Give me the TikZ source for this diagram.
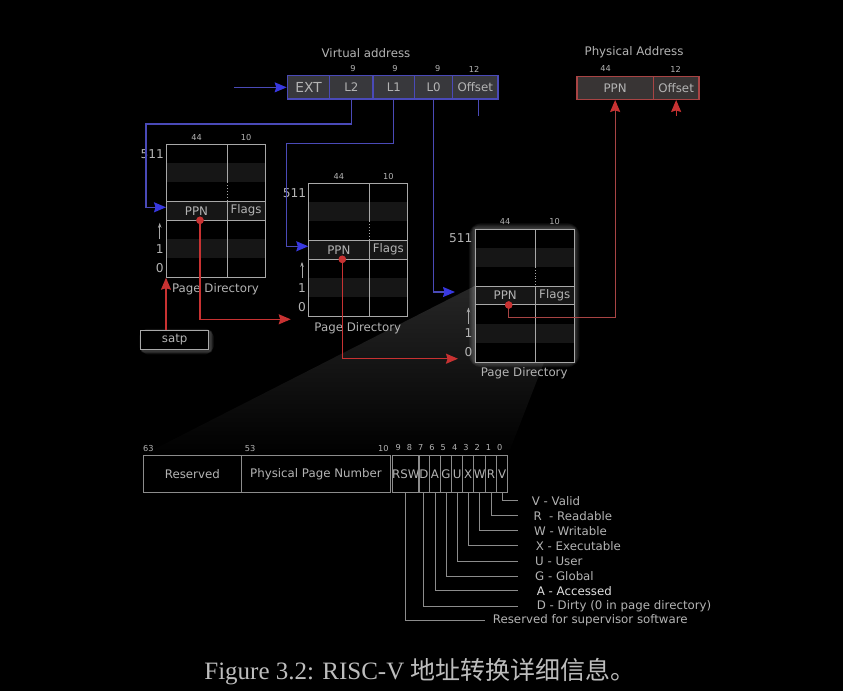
\documentclass[tikz,border=0pt]{standalone}
\usepackage{fontspec}
\setmainfont{DejaVu Sans}
\newfontfamily\capfont{Liberation Serif}
\newfontfamily\cjkfont{Noto Sans CJK SC}
\usetikzlibrary{arrows.meta,calc}
\definecolor{txt}{HTML}{B4B4B4}
\definecolor{gridc}{HTML}{A8A8A8}
\definecolor{stripe}{HTML}{161616}
\definecolor{vablue}{HTML}{4A4AB8}
\definecolor{arrblue}{HTML}{3838E0}
\definecolor{pared}{HTML}{A84444}
\definecolor{arrred}{HTML}{C83232}
\definecolor{vafill}{HTML}{38383C}
\definecolor{pafill}{HTML}{383434}
\definecolor{ptegrid}{HTML}{8C8C8C}
\definecolor{capgray}{HTML}{BDBDBD}
\definecolor{wedgetop}{HTML}{262626}
\tikzset{
  lbl/.style={text=txt,font=\fontsize{11.8}{13}\selectfont,inner sep=0pt},
  biglbl/.style={text=txt,font=\fontsize{12.2}{14}\selectfont,inner sep=0pt},
  small/.style={text=txt,font=\fontsize{8.2}{9}\selectfont,inner sep=0pt},
  vacell/.style={draw=vablue,fill=vafill,line width=1.3pt,minimum height=23.3pt,inner sep=0pt,anchor=west,text=txt,font=\fontsize{11.8}{13}\selectfont},
  pacell/.style={draw=pared,fill=pafill,line width=1.3pt,minimum height=22.6pt,inner sep=0pt,anchor=west,text=txt,font=\fontsize{11.8}{13}\selectfont},
  ptecell/.style={draw=ptegrid,line width=0.9pt,minimum height=37.7pt,inner sep=0pt,anchor=west,text=txt,font=\fontsize{11.8}{13}\selectfont},
  bline/.style={draw=vablue,line width=1.2pt,-{Stealth[length=12pt,width=10pt,inset=1.5pt,color=arrblue]}},
  rline/.style={draw=arrred,line width=1.2pt,-{Stealth[length=12pt,width=10pt,inset=1.5pt,color=arrred]}},
  legline/.style={draw=ptegrid,line width=0.9pt},
  pagedir/.pic={
    \fill[black] (0,0) rectangle (99,132.5);
    \fill[stripe] (0,19) rectangle (99,37.8);
    \fill[stripe] (0,57) rectangle (99,75.8);
    \fill[stripe] (0,95) rectangle (99,113.8);
    \draw[gridc,line width=0.9pt] (0,57) -- (99,57) (0,75.8) -- (99,75.8);
    \draw[gridc,line width=0.9pt] (61,0) -- (61,37.8) (61,57) -- (61,132.5);
    \draw[gridc,line width=0.9pt,dotted] (61,37.8) -- (61,57);
    \node[draw=gridc,line width=0.9pt,minimum width=99pt,minimum height=132.5pt,anchor=north west,inner sep=0pt] (-box) at (0,0) {};
    \node[lbl] (-ppn) at (30.5,66.4) {PPN};
    \node[lbl] (-flags) at (80,66.4) {Flags};
    \node[small] (-w44) at (30.5,-7) {44};
    \node[small] (-w10) at (80,-7) {10};
    \node[biglbl,anchor=east] (-i511) at (-2,9.5) {511};
    \node[biglbl] (-i1) at (-6.3,104.5) {1};
    \node[biglbl] (-i0) at (-6.3,123.3) {0};
    \draw[gridc,line width=0.8pt,-{Stealth[length=5pt,width=3.5pt]}] (-6.3,95) -- (-6.3,78.5);
    \node[lbl] (-title) at (49.5,144.6) {Page Directory};
    \coordinate (-in) at (0,63);
    \coordinate (-dot) at (34,76);
    \fill[arrred] (-dot) circle (3.7pt);
  }
}
\begin{document}
\begin{tikzpicture}[x=1pt,y=-1pt]
\useasboundingbox (0,0) rectangle (843,691);
\fill[black] (0,0) rectangle (843,691);

% shaded wedge from the PTE row to the PTE layout
\shade[top color=wedgetop,bottom color=black] (474.7,286) -- (573.7,286) -- (508,455) -- (142.7,455) -- cycle;

% glows
\foreach \i in {1,...,7}
  \draw[white,opacity=0.04,line width=\i*1.7pt,rounded corners=\i pt] (474.7,229) rectangle (573.7,361.5);
\foreach \i in {1,...,5}
  \draw[white,opacity=0.05,line width=\i*1.3pt,rounded corners=\i pt] (142.5,332) rectangle (210.5,351);

% page directories
\pic (pd1) at (166,144.3) {pagedir};
\pic (pd2) at (308.3,183.3) {pagedir};
\pic (pd3) at (474.7,229) {pagedir};

% virtual address
\node[lbl] (vatitle) at (366,52.7) {Virtual address};
\node[vacell,minimum width=42.3pt,font=\fontsize{13.8}{15}\selectfont] (va-ext) at (286.7,87.35) {EXT};
\node[vacell,minimum width=43.3pt] (va-l2) at (329,87.35) {L2};
\node[vacell,minimum width=41.7pt] (va-l1) at (372.3,87.35) {L1};
\node[vacell,minimum width=38pt] (va-l0) at (414,87.35) {L0};
\node[vacell,minimum width=45.3pt] (va-off) at (452,87.35) {Offset};
\node[small] (vw2) at (353,69) {9};
\node[small] (vw1) at (395,69) {9};
\node[small] (vw0) at (437.7,69) {9};
\node[small] (vwo) at (474,69) {12};

% physical address
\node[lbl] (patitle) at (634,52.3) {Physical Address};
\node[pacell,minimum width=76.4pt] (pa-ppn) at (576.3,88) {PPN};
\node[pacell,minimum width=45.6pt] (pa-off) at (652.7,88) {Offset};
\node[small] (pw44) at (605.7,69) {44};
\node[small] (pw12) at (675.7,69) {12};

% satp
\node[draw=gridc,fill=black,line width=1pt,minimum width=68pt,minimum height=19.3pt,inner sep=0pt,text=txt,font=\fontsize{11.8}{13}\selectfont] (satp) at (174.7,339.7) {satp};

% blue connectors
\coordinate (vin) at (234,87.35);
\coordinate (b1) at (146,124);
\coordinate (b2) at (286.3,143.3);
\draw[bline] (vin) -- (va-ext.west);
\draw[bline] (va-l2.south) |- (b1) |- (pd1-in);
\draw[bline] (va-l1.south) |- (b2) |- (pd2-in);
\draw[bline,shorten >=19.7pt] (va-l0.south) |- (pd3-in);
\draw[draw=vablue,line width=1.2pt] ([xshift=3pt]va-off.south) -- ++(0,16);

% red connectors
\coordinate (t2) at (290.7,319.3);
\coordinate (t3) at (458,358.7);
\draw[rline] (satp.north -| pd1-box.west) -- (pd1-box.south west);
\draw[rline] (pd1-dot) |- (t2);
\draw[rline] (pd2-dot) |- (t3);
\draw[rline,draw=pared] (pd3-dot) -- ++(0,12.3) -| (pa-ppn.south);
\draw[rline] ([yshift=-16pt]pa-off.south) -- (pa-off.south);
\fill[arrred] (pd1-dot) circle (3.7pt);
\fill[arrred] (pd2-dot) circle (3.7pt);
\fill[arrred] (pd3-dot) circle (3.7pt);

% PTE layout
\node[ptecell,minimum width=98.3pt] (pres) at (142.7,473.85) {Reserved};
\node[ptecell,minimum width=149pt] (pppn) at (241,473.85) {Physical Page Number};
\foreach \nm/\xl/\w/\t in {brsw/391.7/26/RSW, bd/417.7/11.3/D, ba/429/11/A, bg/440/11/G, bu/451/11.3/U, bx/462.3/11/X, bw/473.3/11.7/W, br/485/11/R, bv/496/11.3/V}
  \node[ptecell,minimum width=\w pt] (\nm) at (\xl,473.85) {\t};
\node[small] (n63) at (148.3,448.5) {63};
\node[small] (n53) at (250,448.5) {53};
\node[small] (n10) at (383.3,448.5) {10};
\foreach \k in {0,...,9}
  \node[small] (bn\k) at ({499.7-11.27*\k},447.5) {\k};

% legend
\coordinate (lend) at (518.3,0);
\coordinate (lendr) at (485,0);
\foreach \b/\y/\xt/\t in {bv/500.7/531.7/V - Valid, br/515.7/533.3/R\ \ - Readable, bw/530.7/534/W - Writable, bx/545.7/535.7/X - Executable, bu/561/535/U - User, bg/576/535/G - Global, bd/606/536.7/D - Dirty (0 in page directory)}{
  \node[lbl,anchor=west] (t\b) at (\xt,\y) {\t};
  \draw[legline] (\b.south) |- (t\b.west -| lend);
}
\node[lbl,anchor=west,text=white!88!black] (tba) at (536.7,590.7) {A - Accessed};
\draw[legline] (ba.south) |- (tba.west -| lend);
\node[lbl,anchor=west] (tbrsw) at (492.7,620.7) {Reserved for supervisor software};
\draw[legline] (brsw.south) |- (tbrsw.west -| lendr);

% caption
\node[text=capgray,inner sep=0pt,font=\capfont\fontsize{25}{30}\selectfont] (cap) at (420,671.7) {Figure 3.2: RISC-V {\cjkfont 地址转换详细信息。}};
\end{tikzpicture}
\end{document}
